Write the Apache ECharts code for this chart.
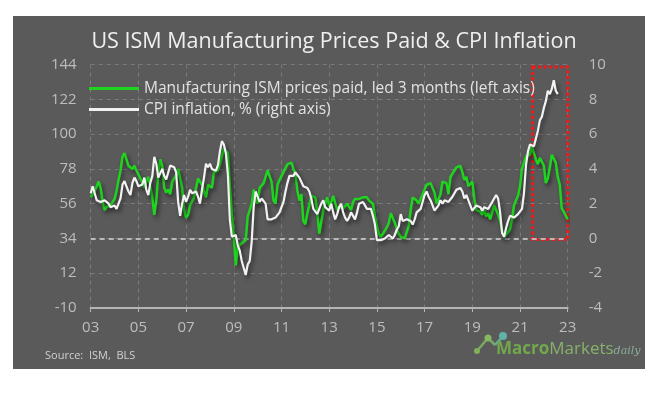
<!DOCTYPE html>
<html><head><meta charset="utf-8">
<script src="https://cdn.jsdelivr.net/npm/echarts@6/dist/echarts.min.js"></script>
<style>html,body{margin:0;padding:0;background:#fff;}#c{width:668px;height:397px;}</style>
</head><body><div id="c"></div>
<script>
// Monthly data, first value = Jan 2003
const startYear = 2003;
// ISM manufacturing prices paid, shifted forward 3 months (left axis)
const ismPricesLed = [
  60, 62, 64, 67, 70, 66, 57, 52, 54, 53, 55, 54,
  59, 64, 71, 77, 86, 88, 84, 80, 81, 78, 80, 77,
  76, 72, 69, 66, 70, 73, 72, 60, 49, 58, 75, 84,
  80, 66, 63, 65, 62, 70, 69, 74, 78, 77, 66, 52,
  47, 49, 55, 56, 60, 66, 72, 73, 68, 64, 60, 68,
  68, 66, 76, 76, 77, 81, 86, 91, 91, 88, 67, 50,
  35, 17, 29, 30, 31, 32, 33, 48, 52, 56, 65, 58,
  56, 66, 66, 69, 69, 77, 77, 70, 58, 56, 68, 71,
  71, 76, 76, 81, 82, 82, 78, 75, 64, 58, 62, 45,
  43, 50, 55, 61, 62, 60, 50, 37, 38, 52, 56, 60,
  54, 57, 61, 61, 52, 54, 55, 53, 54, 56, 54, 52,
  57, 59, 60, 59, 59, 60, 61, 60, 58, 57, 56, 48,
  42, 37, 35, 35, 39, 41, 44, 50, 50, 44, 40, 37,
  35, 35, 34, 34, 42, 52, 60, 60, 58, 56, 56, 62,
  65, 68, 68, 69, 69, 63, 56, 59, 62, 70, 71, 69,
  62, 73, 72, 77, 79, 80, 80, 76, 71, 73, 67, 66,
  70, 59, 52, 52, 51, 49, 52, 48, 50, 46, 45, 55,
  52, 49, 45, 39, 35, 35, 38, 40, 46, 55, 58, 61,
  67, 78, 82, 86, 86, 87, 92, 91, 84, 81, 85, 85,
  80, 69, 72, 79, 87, 86, 82, 73, 68, 53, 51, 50,
  46
];
// CPI inflation, % y/y (right axis)
const cpiInflation = [
  2.6, 3.0, 3.0, 2.2, 2.1, 2.1, 2.1, 2.2, 2.3, 2.0, 1.8, 1.9,
  1.9, 1.7, 1.7, 2.3, 3.1, 3.3, 3.0, 2.7, 2.5, 3.2, 3.5, 3.3,
  3.0, 3.0, 3.1, 3.5, 2.8, 2.5, 3.2, 3.6, 4.7, 4.3, 3.5, 3.4,
  4.0, 3.6, 3.4, 3.5, 4.2, 4.3, 4.1, 3.8, 2.1, 1.3, 2.0, 2.5,
  2.1, 2.4, 2.8, 2.6, 2.7, 2.7, 2.4, 2.0, 2.8, 3.5, 4.3, 4.1,
  4.3, 4.0, 4.0, 3.9, 4.2, 5.0, 5.6, 5.4, 4.9, 3.7, 1.1, 0.1,
  0.0, 0.2, -0.4, -0.7, -1.3, -1.4, -2.1, -1.5, -1.3, -0.2, 1.8, 2.7,
  2.6, 2.1, 2.3, 2.2, 2.0, 1.1, 1.2, 1.1, 1.1, 1.2, 1.1, 1.5,
  1.6, 2.1, 2.7, 3.2, 3.6, 3.6, 3.6, 3.8, 3.9, 3.5, 3.4, 3.0,
  2.9, 2.9, 2.7, 2.3, 1.7, 1.7, 1.4, 1.7, 2.0, 2.2, 1.8, 1.7,
  1.6, 2.0, 1.5, 1.1, 1.4, 1.8, 2.0, 1.5, 1.2, 1.0, 1.2, 1.5,
  1.6, 1.1, 1.5, 2.0, 2.1, 2.1, 2.0, 1.7, 1.7, 1.7, 1.3, 0.8,
  -0.1, 0.0, -0.1, -0.2, 0.0, 0.1, 0.2, 0.2, 0.0, 0.2, 0.5, 0.7,
  1.4, 1.0, 0.9, 1.1, 1.0, 1.0, 0.8, 1.1, 1.5, 1.6, 1.7, 2.1,
  2.5, 2.7, 2.4, 2.2, 1.9, 1.6, 1.7, 1.9, 2.2, 2.0, 2.2, 2.1,
  2.1, 2.2, 2.4, 2.5, 2.8, 2.9, 2.9, 2.7, 2.3, 2.5, 2.2, 1.9,
  1.6, 1.5, 1.9, 2.0, 1.8, 1.6, 1.8, 1.7, 1.7, 1.8, 2.1, 2.3,
  2.5, 2.3, 1.5, 0.3, 0.1, 0.6, 1.0, 1.3, 1.4, 1.2, 1.2, 1.4,
  1.4, 1.7, 2.6, 4.2, 5.0, 5.4, 5.4, 5.3, 5.4, 6.2, 6.8, 7.0,
  7.5, 7.9, 8.5, 8.3, 8.6, 9.1, 8.5, 8.3
];
const xRange = [2003, 2023];
const leftAxisRange = [-10, 144];
const rightAxisRange = [-4, 10];
// highlighted recent period (x in years, y on right axis)
const highlightBox = [[2021.53, 9.86], [2023.31, -0.06]];
const seriesNames = ['Manufacturing ISM prices paid, led 3 months (left axis)', 'CPI inflation, % (right axis)'];

const toPoints = arr => arr.map((v, i) => [startYear + i / 12, v]);
const FONT = 'Open Sans';
const shadow = { shadowColor: 'rgba(0,0,0,0.5)', shadowBlur: 4, shadowOffsetX: 2, shadowOffsetY: 3 };

const chart = echarts.init(document.getElementById('c'), null, { renderer: 'canvas' });
chart.setOption({
  backgroundColor: '#ffffff',
  animation: false,
  textStyle: { fontFamily: FONT },
  graphic: [
    { type: 'rect', z: -10, silent: true, shape: { x: 13, y: 16, width: 632, height: 353 }, style: { fill: '#5a5a5a' } },
    { type: 'text', left: 45, top: 350, style: { text: 'Source:  ISM,  BLS', fill: '#d0d0d0', font: '11px "Open Sans"' } },
    { type: 'group', left: 474, top: 332, children: [
      { type: 'line', shape: { x1: 3, y1: 19, x2: 14, y2: 6 }, style: { stroke: '#79a860', lineWidth: 2.5 } },
      { type: 'line', shape: { x1: 14, y1: 6, x2: 21, y2: 13 }, style: { stroke: '#79a860', lineWidth: 2.5 } },
      { type: 'line', shape: { x1: 21, y1: 13, x2: 29, y2: 4 }, style: { stroke: '#68a99a', lineWidth: 2.5 } },
      { type: 'circle', shape: { cx: 3, cy: 19, r: 3 }, style: { fill: '#7fb05a' } },
      { type: 'circle', shape: { cx: 14, cy: 6, r: 3.5 }, style: { fill: '#86b860' } },
      { type: 'circle', shape: { cx: 29, cy: 4, r: 4 }, style: { fill: '#5fb3a8' } }
    ]},
    { type: 'text', left: 496, top: 341, style: {
      text: '{b|Macro}{r|Markets}{i|daily}',
      rich: {
        b: { fontFamily: FONT, fontSize: 17, fontWeight: 'bold', fill: '#72a84c' },
        r: { fontFamily: FONT, fontSize: 17, fill: '#86b26a' },
        i: { fontFamily: 'DejaVu Serif', fontSize: 11, fontStyle: 'italic', fill: '#8aae9a', padding: [4, 0, 0, 0] }
      }
    }}
  ],
  title: {
    text: 'US ISM Manufacturing Prices Paid & CPI Inflation',
    left: 'center', top: 26,
    textStyle: { color: '#efefef', fontSize: 21.5, fontWeight: 'normal', fontFamily: FONT }
  },
  legend: {
    orient: 'vertical', left: 84, top: 73, itemWidth: 50, itemHeight: 3, itemGap: 0,
    icon: 'rect',
    textStyle: { color: '#e2e2e2', fontSize: 15.5, fontFamily: FONT, lineHeight: 21 },
    data: seriesNames
  },
  grid: { left: 90.7, right: 100.3, top: 64.6, bottom: 89 },
  xAxis: {
    type: 'value', min: xRange[0], max: xRange[1], interval: 2,
    axisLine: { onZero: false, lineStyle: { color: '#b5b5b5', width: 2 } },
    axisTick: { show: true, length: 4, lineStyle: { color: '#b5b5b5' } },
    axisLabel: { color: '#bdbdbd', fontSize: 15, margin: 12, fontFamily: FONT,
      formatter: v => String(v % 100).padStart(2, '0') },
    splitLine: { show: true, lineStyle: { color: '#7a7a7a', type: [4, 4], width: 1 } }
  },
  yAxis: [
    { type: 'value', position: 'left', min: leftAxisRange[0], max: leftAxisRange[1], interval: 22,
      axisLine: { show: false }, axisTick: { show: false },
      axisLabel: { color: '#bdbdbd', fontSize: 15, margin: 14, fontFamily: FONT },
      splitLine: { show: true, lineStyle: { color: '#7a7a7a', type: [4, 4], width: 1 } } },
    { type: 'value', position: 'right', min: rightAxisRange[0], max: rightAxisRange[1], interval: 2,
      axisLine: { show: false }, axisTick: { show: false },
      axisLabel: { color: '#bdbdbd', fontSize: 15, margin: 21, fontFamily: FONT },
      splitLine: { show: false } }
  ],
  series: [
    { name: seriesNames[0], type: 'line', yAxisIndex: 0, symbol: 'none', z: 2,
      data: toPoints(ismPricesLed),
      itemStyle: { color: '#1ed41e' },
      lineStyle: Object.assign({ color: '#1ed41e', width: 2.5 }, shadow) },
    { name: seriesNames[1], type: 'line', yAxisIndex: 1, symbol: 'none', z: 3,
      data: toPoints(cpiInflation),
      itemStyle: { color: '#f2f2f2' },
      lineStyle: Object.assign({ color: '#f2f2f2', width: 2.2 }, shadow),
      markLine: { silent: true, symbol: 'none', label: { show: false }, z: 1,
        lineStyle: { color: '#d8d8d8', type: [5, 4], width: 1.5, shadowBlur: 0, shadowOffsetX: 0, shadowOffsetY: 0 },
        data: [{ yAxis: 0 }] },
      markArea: { silent: true,
        itemStyle: { color: 'rgba(0,0,0,0)', borderColor: '#f01818', borderWidth: 3, borderType: [3, 2.5] },
        data: [[{ coord: highlightBox[0] }, { coord: highlightBox[1] }]] } }
  ]
});
</script>
</body></html>
